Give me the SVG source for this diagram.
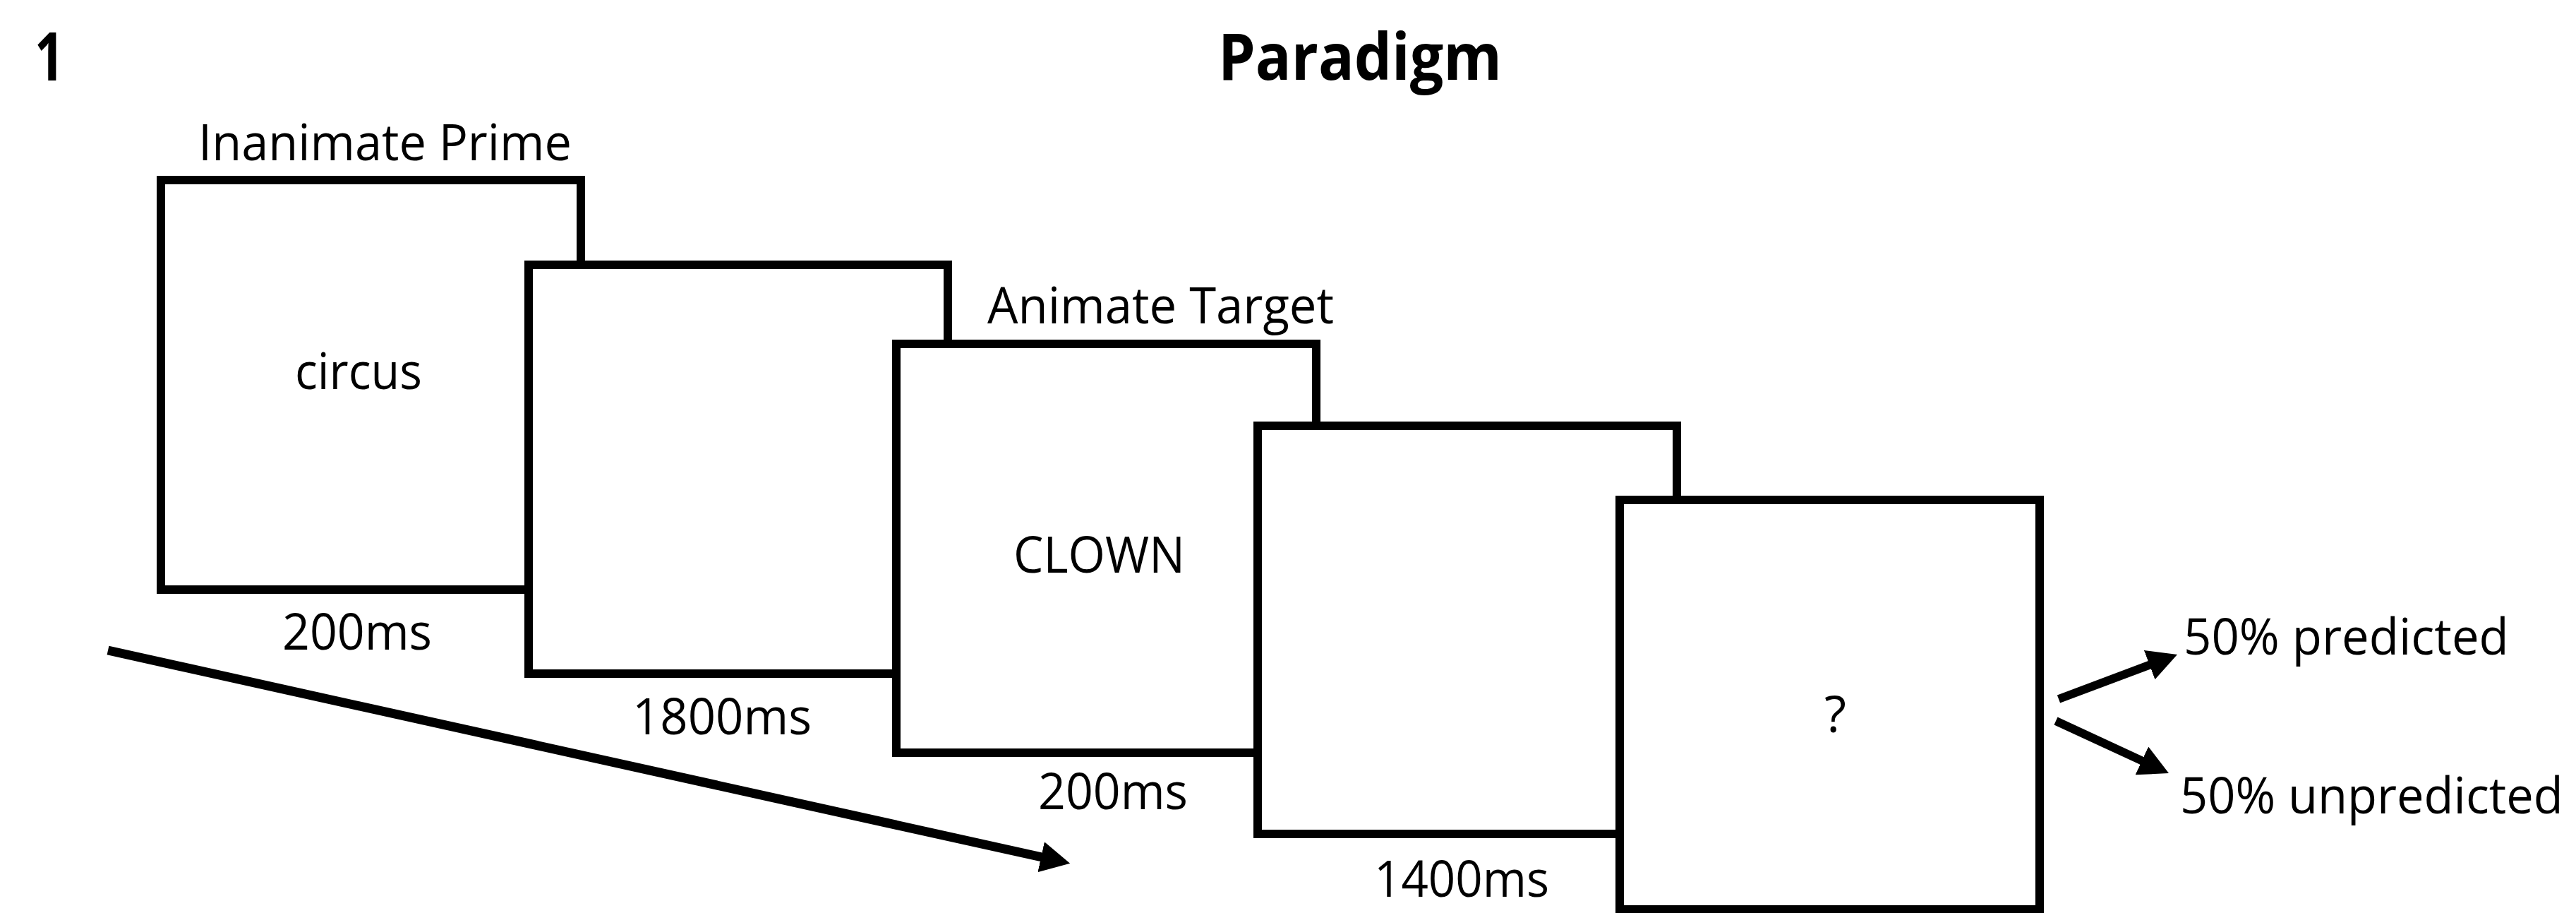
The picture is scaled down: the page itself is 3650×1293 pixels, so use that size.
<svg xmlns="http://www.w3.org/2000/svg" width="3650" height="1293" viewBox="0 0 3650 1293">
<style>
.box{fill:#fff;stroke:#000;stroke-width:12}
.t{font-family:"Open Sans","Noto Sans","Liberation Sans",sans-serif;font-size:72px;fill:#000}
.b{font-family:"Open Sans","Noto Sans","Liberation Sans",sans-serif;font-weight:bold;fill:#000}
.arr{stroke:#000;fill:none}
</style>
<defs>
<marker id="head" markerUnits="userSpaceOnUse" markerWidth="42" markerHeight="44" refX="6" refY="22" orient="auto" viewBox="0 0 42 44">
<path d="M0,0 L42,22 L0,44 Z" fill="#000"/>
</marker>
</defs>
<rect width="3650" height="1293" fill="#fff"/>
<g id="titles">
<text class="b" x="49" y="114" font-size="95" textLength="42" lengthAdjust="spacingAndGlyphs">1</text>
<text class="b" x="1726" y="113" font-size="92" textLength="402" lengthAdjust="spacingAndGlyphs">Paradigm</text>
</g>
<g id="screen1">
<rect class="box" x="228" y="255" width="595" height="580"/>
<text class="t" x="281" y="227" textLength="529" lengthAdjust="spacingAndGlyphs">Inanimate Prime</text>
<text class="t" x="418" y="551" textLength="180" lengthAdjust="spacingAndGlyphs">circus</text>
<text class="t" x="400" y="920" textLength="212" lengthAdjust="spacingAndGlyphs">200ms</text>
</g>
<g id="screen2">
<rect class="box" x="749" y="375" width="594" height="579"/>
<text class="t" x="896" y="1040" textLength="254" lengthAdjust="spacingAndGlyphs">1800ms</text>
</g>
<g id="screen3">
<rect class="box" x="1270" y="487" width="595" height="579"/>
<text class="t" x="1399" y="458" textLength="491" lengthAdjust="spacingAndGlyphs">Animate Target</text>
<text class="t" x="1436" y="811" textLength="243" lengthAdjust="spacingAndGlyphs">CLOWN</text>
<text class="t" x="1471" y="1146" textLength="212" lengthAdjust="spacingAndGlyphs">200ms</text>
</g>
<g id="screen4">
<rect class="box" x="1782" y="603" width="594" height="578"/>
<text class="t" x="1947" y="1270" textLength="248" lengthAdjust="spacingAndGlyphs">1400ms</text>
</g>
<g id="screen5">
<rect class="box" x="2295" y="708" width="595" height="580"/>
<text class="t" x="2585" y="1037" textLength="31" lengthAdjust="spacingAndGlyphs">?</text>
</g>
<g id="outcomes">
<text class="t" transform="translate(3094,927) scale(0.9,1)" x="0" y="0" textLength="512" lengthAdjust="spacingAndGlyphs">50% predicted</text>
<text class="t" transform="translate(3089,1152) scale(0.9,1)" x="0" y="0" textLength="603" lengthAdjust="spacingAndGlyphs">50% unpredicted</text>
</g>
<g id="connectors">
<line class="arr" x1="153" y1="921" x2="1481" y2="1215" stroke-width="13" marker-end="url(#head)"/>
<line class="arr" x1="2917" y1="990" x2="3051.3" y2="939.6" stroke-width="12" marker-end="url(#head)"/>
<line class="arr" x1="2913" y1="1021" x2="3040.3" y2="1079.9" stroke-width="12" marker-end="url(#head)"/>
</g>
</svg>
